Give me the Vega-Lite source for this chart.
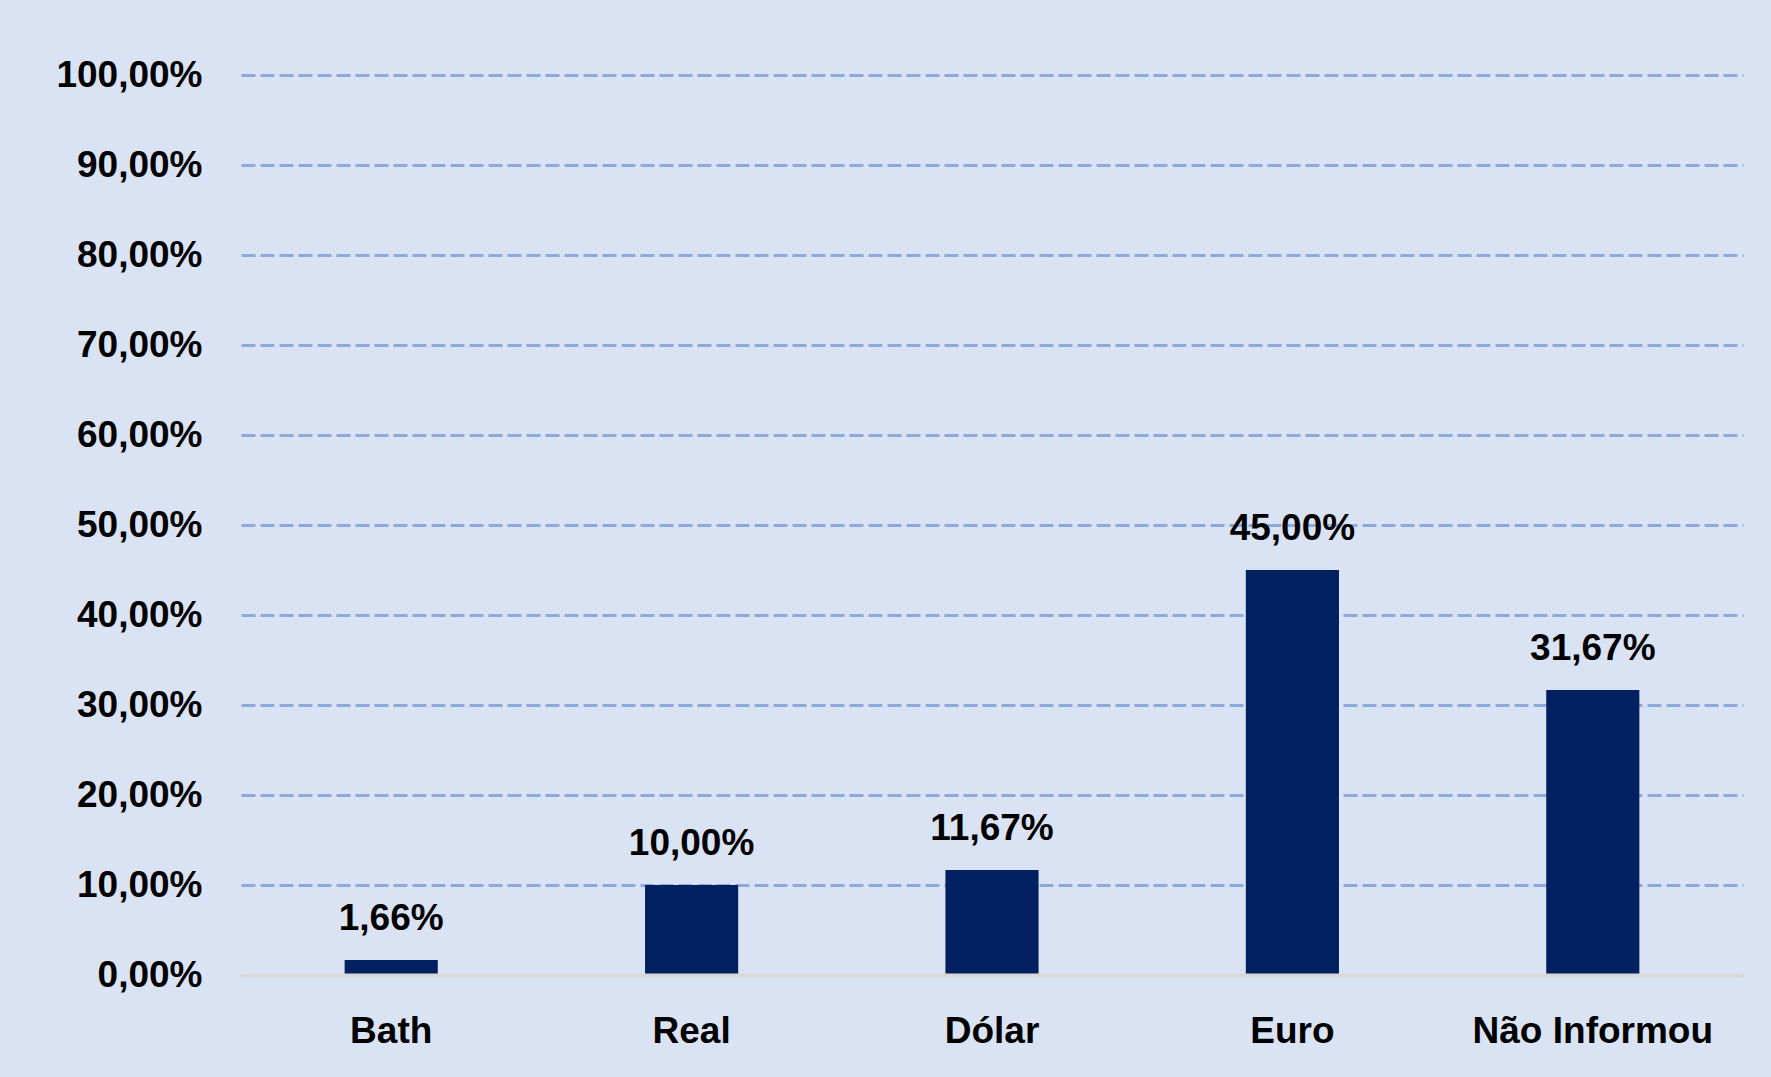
{
  "$schema": "https://vega.github.io/schema/vega-lite/v6.json",
  "autosize": {"type": "none"},
  "width": 1502,
  "height": 900,
  "padding": {"left": 241, "top": 75, "right": 28, "bottom": 102},
  "background": "#dae3f3",
  "config": {
    "locale": {"number": {"decimal": ",", "thousands": ".", "grouping": [3], "currency": ["R$", ""]}},
    "view": {"stroke": null},
    "font": "Liberation Sans"
  },
  "data": {
    "values": [
      {"moeda": "Bath", "pct": 0.0166},
      {"moeda": "Real", "pct": 0.10},
      {"moeda": "Dólar", "pct": 0.1167},
      {"moeda": "Euro", "pct": 0.45},
      {"moeda": "Não Informou", "pct": 0.3167}
    ]
  },
  "encoding": {
    "x": {
      "field": "moeda",
      "type": "nominal",
      "sort": null,
      "scale": {"paddingInner": 0.69, "paddingOuter": 0.345, "round": false},
      "axis": {
        "title": null,
        "labelAngle": 0,
        "labelFont": "Liberation Sans",
        "labelFontSize": 37,
        "labelFontWeight": "bold",
        "labelColor": "#000000",
        "labelPadding": 38,
        "labelLimit": 0,
        "ticks": false,
        "tickSize": 0,
        "domain": true,
        "domainColor": "#d9d9d9",
        "domainWidth": 4,
        "zindex": 1
      }
    },
    "y": {
      "field": "pct",
      "type": "quantitative",
      "scale": {"domain": [0, 1], "nice": false},
      "axis": {
        "title": null,
        "values": [0, 0.1, 0.2, 0.3, 0.4, 0.5, 0.6, 0.7, 0.8, 0.9, 1.0],
        "format": ".2%",
        "labelFont": "Liberation Sans",
        "labelFontSize": 37,
        "labelFontWeight": "bold",
        "labelColor": "#000000",
        "labelPadding": 39,
        "labelLimit": 0,
        "ticks": false,
        "tickSize": 0,
        "domain": false,
        "grid": true,
        "gridColor": "#8eaadb",
        "gridWidth": 3,
        "gridDash": [14, 5],
        "zindex": 0
      }
    }
  },
  "layer": [
    {
      "mark": {"type": "bar", "color": "#002060"}
    },
    {
      "mark": {
        "type": "text",
        "baseline": "alphabetic",
        "align": "center",
        "dy": -30,
        "font": "Liberation Sans",
        "fontSize": 37,
        "fontWeight": "bold",
        "color": "#000000"
      },
      "encoding": {
        "text": {"field": "pct", "type": "quantitative", "format": ".2%"}
      }
    }
  ]
}
